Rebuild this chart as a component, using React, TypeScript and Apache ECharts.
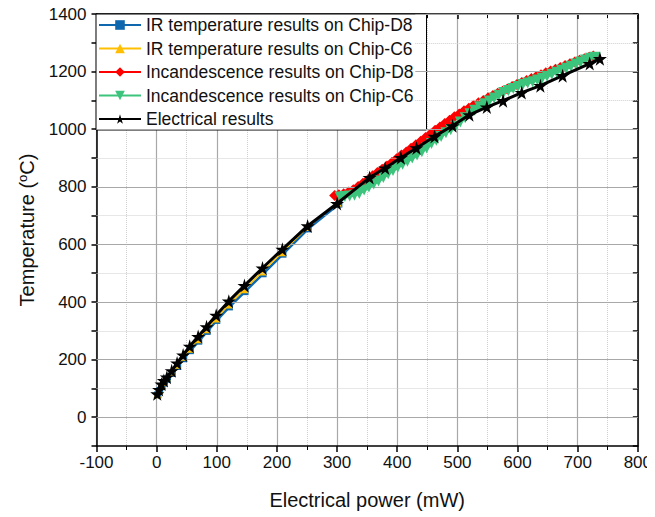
import React, { useEffect, useRef } from "react";
import * as echarts from "echarts";

// ---- Data ----
const seriesNames = [
  "IR temperature results on Chip-D8",
  "IR temperature results on Chip-C6",
  "Incandescence results on Chip-D8",
  "Incandescence results on Chip-C6",
  "Electrical results",
];

const irD8: [number, number][] = [
  [2, 78], [5, 92], [9, 106], [13, 119], [18, 132], [26, 152], [35, 176], [45, 203],
  [56, 231], [70, 264], [84, 298], [100, 336], [121, 383], [147, 436], [177, 498],
  [210, 566], [252, 654], [303, 740],
];

const irC6: [number, number][] = [
  [1, 80], [4, 95], [8, 110], [12, 122], [17, 138], [25, 158], [34, 182], [44, 210],
  [55, 238], [69, 271], [83, 305], [99, 343], [120, 391], [146, 444], [176, 506],
  [209, 573], [251, 660], [301, 745],
];

const incD8: [number, number][] = [
  [296, 770], [303, 772], [311, 776], [319, 782], [327, 790], [335, 801], [343, 812],
  [351, 824], [359, 838], [367, 850], [375, 861], [383, 872], [391, 884], [399, 897],
  [407, 910], [415, 921], [423, 934], [431, 946], [439, 958], [447, 971], [455, 983],
  [463, 996], [471, 1008], [479, 1020], [487, 1031], [495, 1043], [503, 1053],
  [511, 1064], [519, 1073], [527, 1083], [535, 1092], [543, 1100], [551, 1109],
  [559, 1117], [567, 1125], [575, 1132], [583, 1140], [591, 1148], [599, 1155],
  [607, 1162], [615, 1169], [623, 1176], [631, 1183], [639, 1189], [647, 1196],
  [655, 1202], [663, 1208], [671, 1214], [679, 1221], [687, 1227], [695, 1233],
  [703, 1239], [711, 1245], [719, 1250], [726, 1254],
];

const incC6: [number, number][] = [
  [305, 765], [313, 766], [321, 768], [329, 771], [337, 777], [345, 789], [353, 799],
  [361, 810], [369, 820], [377, 832], [385, 845], [393, 857], [401, 868], [409, 878],
  [417, 889], [425, 900], [433, 910], [441, 922], [449, 935], [457, 950], [465, 962],
  [473, 975], [481, 988], [489, 998], [497, 1010], [505, 1025], [513, 1040],
  [521, 1054], [529, 1066], [537, 1078], [545, 1088], [553, 1098], [561, 1108],
  [569, 1118], [577, 1127], [585, 1134], [593, 1141], [601, 1148], [609, 1155],
  [617, 1160], [625, 1165], [633, 1171], [641, 1177], [649, 1184], [657, 1191],
  [665, 1198], [673, 1205], [681, 1212], [689, 1219], [697, 1226], [705, 1233],
  [713, 1240], [721, 1246], [729, 1250],
];

const electrical: [number, number][] = [
  [1, 81], [4, 96], [8, 115], [12, 127], [17, 139], [25, 161], [34, 188], [44, 216],
  [55, 246], [69, 280], [83, 314], [99, 354], [120, 403], [146, 457], [176, 518],
  [209, 583], [251, 664], [300, 742], [354, 832], [380, 865], [406, 901], [432, 935],
  [462, 975], [492, 1012], [520, 1050], [549, 1077], [576, 1099], [607, 1127],
  [638, 1151], [675, 1186], [720, 1228], [737, 1245],
];

const xTicks = { min: -100, max: 800, interval: 100 };
const yTicks = { min: -100, max: 1400, interval: 100 };
// labelled (solid grid) and intermediate (dotted grid) temperature levels
const yMajorLevels = [0, 200, 400, 600, 800, 1000, 1200, 1400];
const yMinorLevels = [100, 300, 500, 700, 900, 1100, 1300];
// grid lines above this level start right of the legend box (power value at its right edge)
const legendTopLevel = 1050;
const legendRightPower = 430;

const STAR =
  "path://M50,0 L61,35 L98,35 L68,57 L79,91 L50,70 L21,91 L32,57 L2,35 L39,35 Z";

const FONT = "'Liberation Sans', Arial, sans-serif";

export default function App() {
  const ref = useRef<HTMLDivElement>(null);

  useEffect(() => {
    if (!ref.current) return;
    const chart = echarts.init(ref.current, undefined, { renderer: "svg" });

    const axisLine = { show: true, onZero: false, lineStyle: { color: "#000", width: 1.5 } };
    const majorGridStyle = { color: "#a8a8a8", width: 1.2, type: "solid" as const };
    const minorGridStyle = { color: "#cfcfcf", width: 1, type: "dotted" as const };

    const levelLine = (v: number, style: any) =>
      v > legendTopLevel
        ? [{ coord: [legendRightPower, v], lineStyle: style }, { coord: [xTicks.max, v] }]
        : { yAxis: v, lineStyle: style };

    chart.setOption({
      animation: false,
      backgroundColor: "#fff",
      textStyle: { fontFamily: FONT },
      grid: { left: 96.5, right: 16, top: 14, bottom: 71, containLabel: false },
      legend: {
        orient: "vertical",
        left: 96,
        top: 14,
        data: seriesNames,
        backgroundColor: "#fff",
        borderColor: "#000",
        borderWidth: 1,
        padding: [2, 13, 2, 2],
        itemWidth: 42,
        itemHeight: 12,
        itemGap: 5.5,
        textStyle: { fontSize: 17.5, color: "#111", fontFamily: FONT, lineHeight: 18 },
      },
      xAxis: [
        {
          type: "value",
          position: "bottom",
          min: xTicks.min,
          max: xTicks.max,
          interval: xTicks.interval,
          name: "Electrical power (mW)",
          nameLocation: "middle",
          nameGap: 44,
          nameTextStyle: { fontSize: 20, color: "#111", fontFamily: FONT },
          axisLine,
          axisTick: { show: true, inside: false, length: 6, lineStyle: { color: "#000", width: 1.5 } },
          minorTick: { show: true, splitNumber: 2, length: 4, lineStyle: { color: "#000", width: 1 } },
          axisLabel: { fontSize: 17, color: "#111", margin: 8, fontFamily: FONT },
          splitLine: { show: true, lineStyle: majorGridStyle },
          minorSplitLine: { show: true, lineStyle: minorGridStyle },
        },
        {
          type: "value",
          position: "top",
          min: xTicks.min,
          max: xTicks.max,
          interval: xTicks.interval,
          axisLine,
          axisTick: { show: true, inside: true, length: 5, lineStyle: { color: "#000", width: 1.5 } },
          minorTick: { show: true, splitNumber: 2, length: 4, lineStyle: { color: "#000", width: 1 } },
          axisLabel: { show: false },
          splitLine: { show: false },
        },
      ],
      yAxis: [
        {
          type: "value",
          position: "left",
          min: yTicks.min,
          max: yTicks.max,
          interval: yTicks.interval,
          name: "{a|Temperature (}{s|o}{a|C)}",
          nameLocation: "middle",
          nameGap: 58,
          nameTextStyle: {
            fontFamily: FONT,
            rich: {
              a: { fontSize: 20, color: "#111", fontFamily: FONT },
              s: { fontSize: 13, color: "#111", fontFamily: FONT, padding: [0, 0, 10, 0] },
            },
          },
          axisLine,
          axisTick: { show: true, inside: false, length: 5, lineStyle: { color: "#000", width: 1.5 } },
          axisLabel: {
            fontSize: 17,
            color: "#111",
            margin: 10,
            fontFamily: FONT,
            formatter: (v: number) => (v % 200 === 0 ? String(v) : ""),
          },
          splitLine: { show: false },
        },
        {
          type: "value",
          position: "right",
          min: yTicks.min,
          max: yTicks.max,
          interval: yTicks.interval,
          axisLine,
          axisTick: { show: true, inside: true, length: 5, lineStyle: { color: "#000", width: 1.5 } },
          axisLabel: { show: false },
          splitLine: { show: false },
        },
      ],
      series: [
        {
          name: "grid",
          type: "line",
          data: [],
          z: 1,
          silent: true,
          markLine: {
            silent: true,
            symbol: "none",
            label: { show: false },
            animation: false,
            data: [
              ...yMajorLevels.map((v) => levelLine(v, majorGridStyle)),
              ...yMinorLevels.map((v) => levelLine(v, minorGridStyle)),
            ],
          },
        },
        {
          name: seriesNames[0],
          type: "line",
          data: irD8,
          color: "#0f68ae",
          symbol: "rect",
          symbolSize: 7,
          lineStyle: { width: 2.5 },
          z: 2,
        },
        {
          name: seriesNames[1],
          type: "line",
          data: irC6,
          color: "#ffbf00",
          symbol: "triangle",
          symbolSize: 8,
          lineStyle: { width: 1.5 },
          z: 3,
        },
        {
          name: seriesNames[2],
          type: "line",
          data: incD8,
          color: "#ff0000",
          symbol: "diamond",
          symbolSize: 11,
          lineStyle: { width: 3 },
          z: 4,
        },
        {
          name: seriesNames[3],
          type: "line",
          data: incC6,
          color: "#3cc47c",
          symbol: "triangle",
          symbolRotate: 180,
          symbolSize: 11,
          lineStyle: { width: 3 },
          z: 5,
        },
        {
          name: seriesNames[4],
          type: "line",
          data: electrical,
          color: "#000000",
          symbol: STAR,
          symbolSize: 14,
          lineStyle: { width: 3 },
          z: 6,
        },
      ],
    });

    return () => chart.dispose();
  }, []);

  return <div ref={ref} style={{ width: 655, height: 517, marginLeft: -8, marginTop: -8 }} />;
}
